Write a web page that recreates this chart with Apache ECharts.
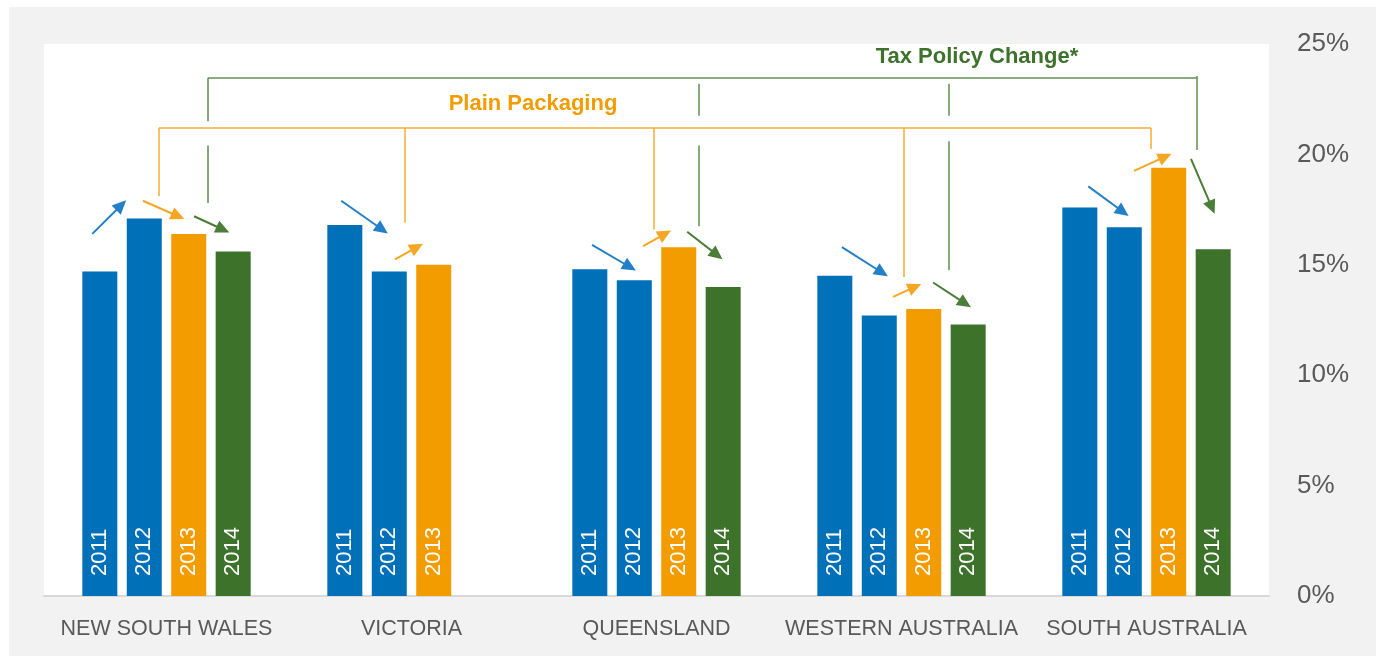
<!DOCTYPE html>
<html>
<head>
<meta charset="utf-8">
<script src="https://cdn.jsdelivr.net/npm/echarts@6/dist/echarts.min.js"></script>
<style>
  html, body { margin: 0; padding: 0; background: #fff; }
  #chart { width: 1376px; height: 656px; }
</style>
</head>
<body>
<div id="chart"></div>
<script>
// smoking rates per state, by year (percent)
const states = ["NEW SOUTH WALES", "VICTORIA", "QUEENSLAND", "WESTERN AUSTRALIA", "SOUTH AUSTRALIA"];
const years = ["2011", "2012", "2013", "2014"];
const rate2011 = [14.7, 16.8, 14.8, 14.5, 17.6];
const rate2012 = [17.1, 14.7, 14.3, 12.7, 16.7];
const rate2013 = [16.4, 15.0, 15.8, 13.0, 19.4];
const rate2014 = [15.6, null, 14.0, 12.3, 15.7];

// trend arrows: [state, from slot, from value, to slot, to value, year index for colour]
const trendArrows = [
  [0, -0.17, 16.4, 0.48, 17.7, 1],
  [0, 0.97, 17.9, 1.76, 17.2, 2],
  [0, 2.12, 17.2, 2.77, 16.6, 3],
  [1, -0.08, 17.9, 0.84, 16.6, 1],
  [1, 1.13, 15.25, 1.62, 15.8, 2],
  [2, 0.05, 15.9, 0.9, 14.9, 1],
  [2, 1.2, 15.85, 1.69, 16.4, 2],
  [2, 2.19, 16.5, 2.86, 15.45, 3],
  [3, 0.16, 15.8, 1.06, 14.65, 1],
  [3, 1.31, 13.55, 1.8, 14.0, 2],
  [3, 2.21, 14.2, 2.93, 13.25, 3],
  [4, 0.19, 18.55, 0.97, 17.4, 1],
  [4, 1.22, 19.25, 1.92, 19.9, 2],
  [4, 2.5, 19.8, 2.97, 17.6, 3],
];

// "Plain Packaging" bracket: level, drops [state, slot, bottom value]
const plainLevel = 21.2;
const plainDrops = [[0, 1.33, 18.1], [1, 1.35, 16.9], [2, 1.44, 16.6], [3, 1.56, 14.45], [4, 1.6, 20.25]];
// "Tax Policy Change*" bracket: level, drops [state, slot, [top, bottom] pieces]
const taxLevel = 23.46;
const taxDrops = [
  [0, 2.43, [[23.46, 21.5], [20.4, 17.8]]],
  [2, 2.46, [[23.2, 21.75], [20.4, 16.75]]],
  [3, 2.56, [[23.2, 21.75], [20.6, 14.75]]],
  [4, 2.63, [[23.55, 20.2]]],
];

const yearColors = ["#0070b8", "#0070b8", "#f39c00", "#3d722a"];
const arrowColors = ["#2380c6", "#2380c6", "#f5a623", "#4b7d39"];
const FONT = "'Liberation Sans', Arial, sans-serif";

const GRID = { left: 44, right: 107, top: 44, bottom: 60 };
const BAR_W = 35;
const BAR_GAP = 0.27;

const chart = echarts.init(document.getElementById("chart"));
const bandPx = (chart.getWidth() - GRID.left - GRID.right) / states.length;
const pitch = (BAR_W * (1 + BAR_GAP)) / bandPx;

// x position on the hidden value axis, from state index and bar slot
function slotX(state, slot) {
  return state + (slot - 1.5) * pitch;
}

const arrowLines = trendArrows.map(a => [
  { coord: [slotX(a[0], a[1]), a[2]], lineStyle: { color: arrowColors[a[5]] }, itemStyle: { color: arrowColors[a[5]] } },
  { coord: [slotX(a[0], a[3]), a[4]] },
]);

const plainLines = [[
  { coord: [slotX(plainDrops[0][0], plainDrops[0][1]), plainLevel] },
  { coord: [slotX(plainDrops[4][0], plainDrops[4][1]), plainLevel] },
]].concat(plainDrops.map(d => [
  { coord: [slotX(d[0], d[1]), plainLevel] },
  { coord: [slotX(d[0], d[1]), d[2]] },
]));

const taxLines = [[
  { coord: [slotX(taxDrops[0][0], taxDrops[0][1]), taxLevel] },
  { coord: [slotX(taxDrops[3][0], taxDrops[3][1]), taxLevel] },
]];
taxDrops.forEach(d => {
  d[2].forEach(p => {
    taxLines.push([{ coord: [slotX(d[0], d[1]), p[0]] }, { coord: [slotX(d[0], d[1]), p[1]] }]);
  });
});

function barSeries(name, data, idx) {
  return {
    name: name,
    type: "bar",
    data: data,
    barWidth: BAR_W,
    barGap: (BAR_GAP * 100) + "%",
    itemStyle: { color: yearColors[idx] },
    label: {
      show: true,
      position: "insideBottom",
      rotate: 90,
      align: "left",
      verticalAlign: "middle",
      distance: 20,
      formatter: "{a}",
      color: "#fff",
      fontSize: 22,
      fontFamily: FONT,
    },
  };
}

function annotationSeries(name, lines, color, width, arrow) {
  return {
    name: name,
    type: "line",
    xAxisIndex: 1,
    data: [],
    silent: true,
    markLine: {
      silent: true,
      animation: false,
      symbol: arrow ? ["none", "triangle"] : ["none", "none"],
      symbolSize: arrow ? [13, 14] : 0,
      label: { show: false },
      emphasis: { disabled: true },
      lineStyle: { color: color, width: width, type: "solid" },
      data: lines,
    },
  };
}

const option = {
  backgroundColor: "#fff",
  animation: false,
  textStyle: { fontFamily: FONT },
  grid: {
    left: GRID.left, right: GRID.right, top: GRID.top, bottom: GRID.bottom,
    show: true, backgroundColor: "#fff", borderWidth: 0,
  },
  graphic: [
    { type: "rect", z: -10, silent: true, shape: { x: 9, y: 7, width: 1376, height: 656 }, style: { fill: "#f2f2f2" } },
    {
      type: "text", silent: true, x: 533, y: 104,
      style: { text: "Plain Packaging", fill: "#f39c00", font: "bold 22px " + FONT, textAlign: "center", textVerticalAlign: "middle" },
    },
    {
      type: "text", silent: true, x: 977, y: 57,
      style: { text: "Tax Policy Change*", fill: "#3d722a", font: "bold 22px " + FONT, textAlign: "center", textVerticalAlign: "middle" },
    },
  ],
  xAxis: [
    {
      type: "category",
      data: states,
      axisLine: { lineStyle: { color: "#d9d9d9", width: 2 } },
      axisTick: { show: false },
      axisLabel: { color: "#595959", fontSize: 21.5, margin: 22, interval: 0, fontFamily: FONT },
    },
    { type: "value", min: -0.5, max: 4.5, show: false },
  ],
  yAxis: {
    type: "value",
    position: "right",
    min: 0,
    max: 25,
    interval: 5,
    axisLine: { show: false },
    axisTick: { show: false },
    splitLine: { show: false },
    axisLabel: { formatter: "{value}%", color: "#595959", fontSize: 26, margin: 28, fontFamily: FONT },
  },
  series: [
    barSeries(years[0], rate2011, 0),
    barSeries(years[1], rate2012, 1),
    barSeries(years[2], rate2013, 2),
    barSeries(years[3], rate2014, 3),
    annotationSeries("plain", plainLines, "#f6ad33", 1.5, false),
    annotationSeries("tax", taxLines, "#5f8f4e", 1.5, false),
    annotationSeries("arrows", arrowLines, "#2380c6", 2, true),
  ],
};

chart.setOption(option);
</script>
</body>
</html>
